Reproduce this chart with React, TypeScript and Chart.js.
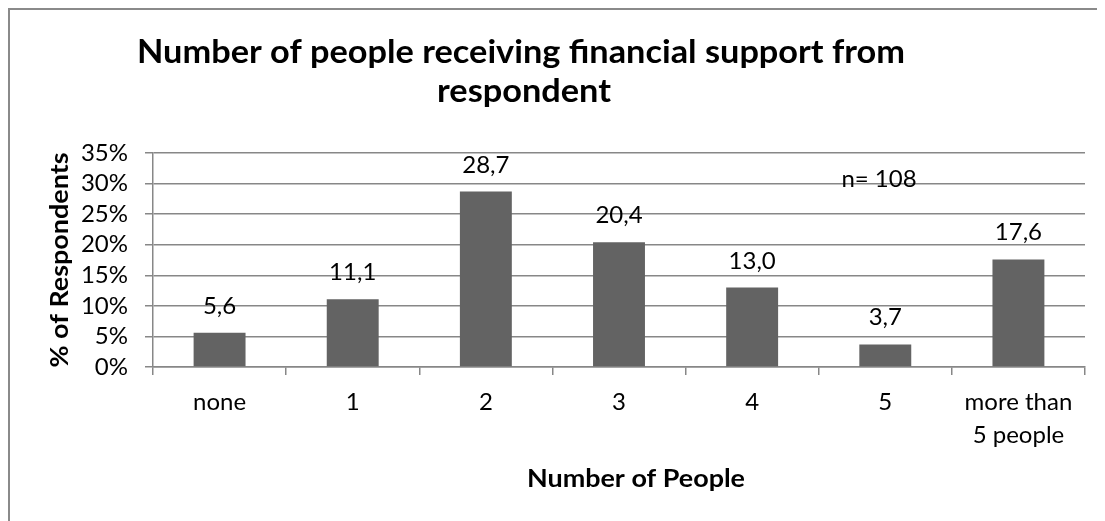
import React, { useEffect, useRef } from "react";
import { Chart, registerables } from "chart.js";

Chart.register(...registerables);

const categories: (string | string[])[] = ["none", "1", "2", "3", "4", "5", ["more than", "5 people"]];
const shareValues: number[] = [5.6, 11.1, 28.7, 20.4, 13.0, 3.7, 17.6];
const yTicks: number[] = [0, 5, 10, 15, 20, 25, 30, 35];
const titleLines: string[] = ["Number of people receiving financial support from", "respondent"];
const xTitle = "Number of People";
const yTitle = "% of Respondents";
const noteText = "n= 108";

const FONT = "Lato, 'Open Sans', sans-serif";
const GRID = "#878787";

function drawScaled(
  ctx: CanvasRenderingContext2D,
  text: string,
  cx: number,
  cy: number,
  sx: number,
  rotate = false
) {
  ctx.save();
  ctx.translate(cx, cy);
  if (rotate) ctx.rotate(-Math.PI / 2);
  ctx.scale(sx, 1);
  ctx.fillText(text, 0, 0);
  ctx.restore();
}

const decorPlugin = {
  id: "decor",
  afterDraw(chart: any) {
    const ctx: CanvasRenderingContext2D = chart.ctx;
    const area = chart.chartArea;
    ctx.save();
    // outer frame (left and top edges visible)
    ctx.strokeStyle = "#8a8a8a";
    ctx.lineWidth = 2;
    ctx.beginPath();
    ctx.moveTo(1, chart.height);
    ctx.lineTo(1, 1);
    ctx.lineTo(chart.width, 1);
    ctx.stroke();

    ctx.fillStyle = "#000";
    ctx.textAlign = "center";
    ctx.textBaseline = "alphabetic";
    // title: both lines share one horizontal scale
    ctx.font = `bold 32px ${FONT}`;
    const tsx = 768 / ctx.measureText(titleLines[0]).width;
    drawScaled(ctx, titleLines[0], 513, 55, tsx);
    drawScaled(ctx, titleLines[1], 516, 94, tsx);

    // axis titles
    ctx.textBaseline = "middle";
    ctx.font = `bold 24px ${FONT}`;
    const xsx = 218 / ctx.measureText(xTitle).width;
    drawScaled(ctx, xTitle, 628, 471, xsx);
    drawScaled(ctx, yTitle, 52, (area.top + area.bottom) / 2, xsx, true);

    // data labels
    ctx.font = `24px ${FONT}`;
    ctx.textBaseline = "alphabetic";
    const meta = chart.getDatasetMeta(0);
    meta.data.forEach((bar: any, i: number) => {
      const label = shareValues[i].toFixed(1).replace(".", ",");
      ctx.fillText(label, bar.x, bar.y - 19);
    });

    // sample size note
    ctx.fillText(noteText, 871, 179);
    ctx.restore();
  },
};

export default function App() {
  const ref = useRef<HTMLCanvasElement | null>(null);
  useEffect(() => {
    if (!ref.current) return;
    const chart = new Chart(ref.current, {
      type: "bar",
      data: {
        labels: categories,
        datasets: [
          {
            data: shareValues,
            backgroundColor: "#636363",
            borderWidth: 0,
            barPercentage: 0.39,
            categoryPercentage: 1,
          },
        ],
      },
      options: {
        responsive: false,
        animation: false,
        layout: { padding: { left: 0, top: 145, right: 20, bottom: 0 } },
        plugins: { legend: { display: false }, title: { display: false }, tooltip: { enabled: false } },
        scales: {
          x: {
            offset: true,
            grid: {
              offset: true,
              drawOnChartArea: false,
              drawTicks: true,
              tickLength: 8,
              color: GRID,
              lineWidth: 1.5,
            },
            border: { color: GRID, width: 1.5 },
            ticks: {
              color: "#000",
              padding: 11,
              font: { family: FONT, size: 24, lineHeight: 1.38 },
              maxRotation: 0,
              autoSkip: false,
            },
            afterFit: (scale: any) => {
              scale.height = 154;
            },
          },
          y: {
            min: 0,
            max: 35,
            afterBuildTicks: (scale: any) => {
              scale.ticks = yTicks.map((v) => ({ value: v }));
            },
            grid: { color: GRID, lineWidth: 1.5, tickLength: 8 },
            border: { color: GRID, width: 1.5 },
            ticks: {
              color: "#000",
              padding: 17,
              autoSkip: false,
              font: { family: FONT, size: 24 },
              callback: (v: any) => `${v}%`,
            },
            afterFit: (scale: any) => {
              scale.width = 145;
            },
          },
        },
      },
      plugins: [decorPlugin],
    });
    return () => chart.destroy();
  }, []);
  return (
    <div style={{ width: 1097, height: 513 }}>
      <canvas ref={ref} width={1097} height={513} style={{ display: "block" }} />
    </div>
  );
}
